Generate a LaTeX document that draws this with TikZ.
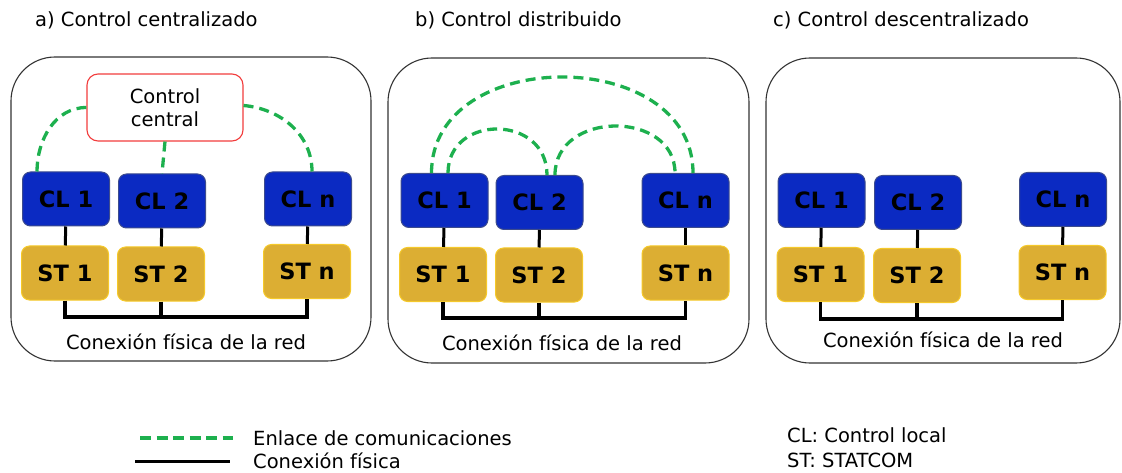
\documentclass[tikz,border=0pt]{standalone}
\usepackage{fontspec}
\setmainfont{DejaVu Sans}
\begin{document}
\begin{tikzpicture}[x=1pt,y=-1pt,
  panel/.style={draw=black!80,line width=1.1pt,rounded corners=44pt},
  unitbox/.style={rounded corners=8pt,line width=1pt,inner sep=0pt,
    minimum width=87pt,minimum height=54pt,
    font=\fontsize{22.5}{26}\selectfont\bfseries},
  clbox/.style={unitbox,fill=clblue,draw=clborder},
  stbox/.style={unitbox,fill=stgold,draw=stborder},
  central/.style={draw=ccred,line width=1.1pt,fill=white,rounded corners=11pt,
    minimum width=156pt,minimum height=67pt,inner sep=0pt,align=center,
    font=\fontsize{19.5}{23.5}\selectfont},
  lbl/.style={inner sep=0pt,font=\fontsize{19.5}{23.5}\selectfont},
  comm/.style={draw=commgreen,line width=3.3pt,dash pattern=on 10pt off 6pt},
  link/.style={draw=black,line width=3pt},
  bus/.style={draw=black,line width=3.8pt},
]
\definecolor{clblue}{HTML}{0B2AC2}
\definecolor{clborder}{HTML}{3D4C8E}
\definecolor{stgold}{HTML}{DCAE33}
\definecolor{stborder}{HTML}{F5C92A}
\definecolor{ccred}{HTML}{F23C3C}
\definecolor{commgreen}{HTML}{1DB04E}

\useasboundingbox (0,0) rectangle (1122,473);

% ---------- titles ----------
\node[lbl,anchor=west] (ta) at (35,20) {a) Control centralizado};
\node[lbl,anchor=west] (tb) at (415,20) {b) Control distribuido};
\node[lbl,anchor=west] (tc) at (773,20) {c) Control descentralizado};

% ---------- panel frames ----------
\draw[panel] (11,57) rectangle (371,361);
\draw[panel] (388,58) rectangle (749,363);
\draw[panel] (766,58) rectangle (1120,363);

% ---------- a) centralised control ----------
\node[central] (a-cc) at (165,107.5) {Control\\central};
\node[clbox] (a-cl1) at (66,199) {CL 1};
\node[clbox] (a-cl2) at (162,201) {CL 2};
\node[clbox] (a-cln) at (308,199) {CL n};
\node[stbox] (a-st1) at (65,273) {ST 1};
\node[stbox] (a-st2) at (161,274) {ST 2};
\node[stbox] (a-stn) at (307,271.5) {ST n};
\coordinate (a-bus) at (0,317);
\draw[link] (a-cl1) -- (a-st1);
\draw[link] (a-cl2) -- (a-st2);
\draw[link] (a-cln) -- (a-stn);
\draw[bus] (a-st1.south) -- (a-st1.south |- a-bus) -| (a-stn.south);
\draw[bus] (a-st2.south) -- (a-st2.south |- a-bus);
\node[lbl] (a-net) at (186,342) {Conexión física de la red};
\draw[comm] ([yshift=0pt]a-cc.west) to[out=180,in=90] ([xshift=-29pt]a-cl1.north);
\draw[comm] ([xshift=0pt]a-cc.south) -- ([xshift=0pt]a-cl2.north);
\draw[comm] ([yshift=2pt]a-cc.east) to[out=-5,in=90] ([xshift=4pt]a-cln.north);

% ---------- b) distributed control ----------
\node[clbox] (b-cl1) at (444.5,200.5) {CL 1};
\node[clbox] (b-cl2) at (539.5,202.5) {CL 2};
\node[clbox] (b-cln) at (685.5,200.5) {CL n};
\node[stbox] (b-st1) at (443,274.5) {ST 1};
\node[stbox] (b-st2) at (539,275) {ST 2};
\node[stbox] (b-stn) at (685.5,273) {ST n};
\coordinate (b-bus) at (0,318);
\draw[link] (b-cl1) -- (b-st1);
\draw[link] (b-cl2) -- (b-st2);
\draw[link] (b-cln) -- (b-stn);
\draw[bus] (b-st1.south) -- (b-st1.south |- b-bus) -| (b-stn.south);
\draw[bus] (b-st2.south) -- (b-st2.south |- b-bus);
\node[lbl] (b-net) at (562,343) {Conexión física de la red};
\draw[comm] ([xshift=-13pt]b-cl1.north) .. controls +(0,-128) and +(0,-128) .. ([xshift=7.5pt]b-cln.north);
\draw[comm] ([xshift=3.5pt]b-cl1.north) .. controls +(0,-59) and +(0,-61) .. ([xshift=7.5pt]b-cl2.north);
\draw[comm] ([xshift=15.5pt]b-cl2.north) .. controls +(0,-65) and +(0,-63) .. ([xshift=-10.5pt]b-cln.north);

% ---------- c) decentralised control ----------
\node[clbox] (c-cl1) at (821.5,200.5) {CL 1};
\node[clbox] (c-cl2) at (918,202.5) {CL 2};
\node[clbox] (c-cln) at (1063,199.5) {CL n};
\node[stbox] (c-st1) at (820.5,274.5) {ST 1};
\node[stbox] (c-st2) at (917,275.5) {ST 2};
\node[stbox] (c-stn) at (1062.5,272.5) {ST n};
\coordinate (c-bus) at (0,319);
\draw[link] (c-cl1) -- (c-st1);
\draw[link] (c-cl2) -- (c-st2);
\draw[link] (c-cln) -- (c-stn);
\draw[bus] (c-st1.south) -- (c-st1.south |- c-bus) -| (c-stn.south);
\draw[bus] (c-st2.south) -- (c-st2.south |- c-bus);
\node[lbl] (c-net) at (943,340) {Conexión física de la red};

% ---------- legend ----------
\coordinate (lg-c0) at (140,438);
\coordinate (lg-c1) at (233,438);
\coordinate (lg-p0) at (135,461);
\coordinate (lg-p1) at (230,461);
\draw[comm,dash pattern=on 11pt off 5.5pt] (lg-c0) -- (lg-c1);
\draw[link] (lg-p0) -- (lg-p1);
\node[lbl,anchor=west] (lg-ct) at (253,438) {Enlace de comunicaciones};
\node[lbl,anchor=west] (lg-pt) at (253,461) {Conexión física};
\node[lbl,anchor=west] (lg-cl) at (787,435) {CL: Control local};
\node[lbl,anchor=west] (lg-st) at (787,460) {ST: STATCOM};
\end{tikzpicture}
\end{document}
